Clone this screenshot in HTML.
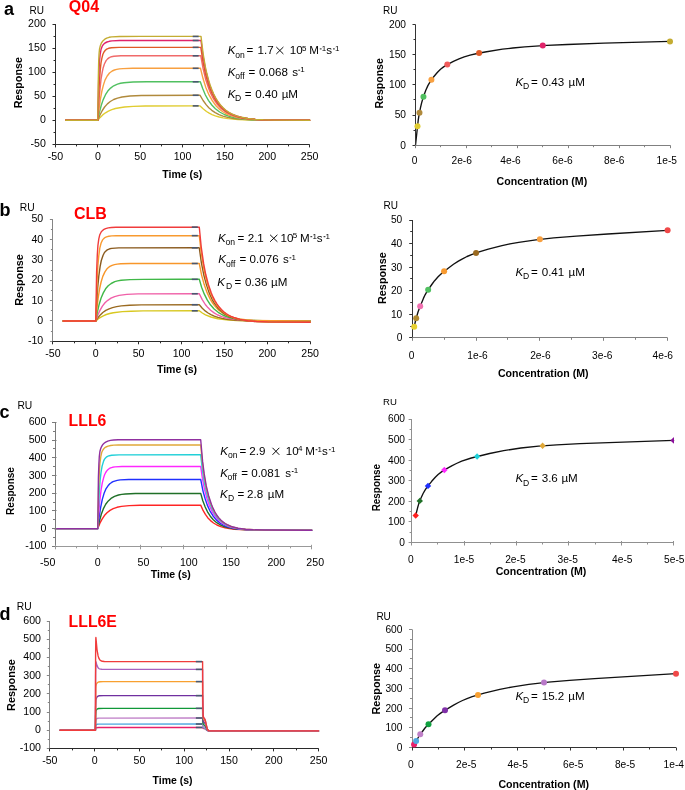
<!DOCTYPE html><html><head><meta charset="utf-8"><style>html,body{margin:0;padding:0;background:#fff;width:685px;height:790px;overflow:hidden;position:relative}</style></head><body><svg width="685" height="790" viewBox="0 0 685 790" style="position:absolute;left:0;top:0;will-change:transform" font-family='"Liberation Sans", sans-serif'>
<rect width="685" height="790" fill="#fff"/>
<path d="M65.7,120.3 L97.8,120.3 L100.2,117.4 L102.7,114.9 L105.5,112.8 L108.4,111.1 L111.8,109.7 L115.4,108.5 L119.7,107.7 L124.5,107.0 L133.2,106.4 L145.1,106.0 L199.3,105.9 L200.1,105.9 L203.1,108.8 L206.5,111.5 L209.2,113.2 L212.0,114.6 L215.4,115.9 L219.2,117.0 L223.2,117.9 L227.9,118.6 L238.0,119.5 L251.8,120.1 L309.6,120.3" fill="none" stroke="#e0cc30" stroke-width="1.4" stroke-linejoin="round" stroke-linecap="round" />
<path d="M65.7,120.3 L97.8,120.3 L100.0,115.0 L102.3,110.5 L104.6,107.0 L107.4,103.9 L110.3,101.5 L113.7,99.5 L117.5,98.1 L122.0,97.0 L130.0,96.0 L141.3,95.5 L199.3,95.3 L200.1,95.3 L203.1,100.5 L206.3,104.9 L208.8,107.7 L211.8,110.3 L215.2,112.6 L219.0,114.6 L223.0,116.1 L227.7,117.4 L232.3,118.3 L237.8,119.0 L251.6,119.9 L271.3,120.2 L309.6,120.3" fill="none" stroke="#b08a3c" stroke-width="1.4" stroke-linejoin="round" stroke-linecap="round" />
<path d="M65.7,120.3 L97.8,120.3 L99.5,112.0 L101.2,105.5 L103.1,99.9 L105.5,94.7 L107.8,91.1 L110.6,88.1 L113.7,85.8 L117.5,84.1 L120.5,83.3 L123.9,82.7 L133.0,82.0 L146.6,81.8 L181.7,81.8 L200.3,81.8 L202.7,88.6 L205.4,95.0 L208.4,100.3 L211.8,105.0 L215.4,108.7 L219.6,112.0 L224.3,114.5 L229.3,116.4 L234.0,117.6 L239.5,118.5 L245.7,119.2 L253.1,119.7 L272.3,120.2 L309.6,120.3" fill="none" stroke="#50c060" stroke-width="1.4" stroke-linejoin="round" stroke-linecap="round" />
<path d="M65.7,120.3 L97.8,120.3 L99.1,108.4 L100.4,99.1 L101.9,91.0 L103.4,85.1 L105.0,80.1 L107.2,76.0 L109.5,73.0 L112.2,71.0 L114.4,70.0 L116.7,69.4 L119.4,68.9 L123.0,68.6 L132.6,68.3 L158.0,68.3 L200.5,68.3 L203.1,78.8 L205.8,87.4 L209.0,94.9 L212.4,100.9 L216.2,106.0 L218.3,108.1 L220.7,110.2 L223.2,112.0 L225.7,113.5 L228.5,114.8 L231.5,115.9 L236.1,117.2 L241.4,118.3 L247.6,119.0 L254.8,119.6 L273.6,120.1 L309.6,120.3" fill="none" stroke="#f8a040" stroke-width="1.4" stroke-linejoin="round" stroke-linecap="round" />
<path d="M65.7,120.3 L97.8,120.3 L99.3,96.2 L101.0,79.5 L102.1,72.8 L103.1,68.0 L104.4,64.0 L106.1,60.6 L107.6,58.9 L109.3,57.6 L111.4,56.7 L113.9,56.2 L120.9,55.8 L141.3,55.8 L200.8,55.8 L203.1,68.7 L205.8,79.8 L208.8,88.8 L210.5,92.9 L212.4,96.8 L214.3,100.1 L216.4,103.2 L218.8,106.0 L221.1,108.4 L223.6,110.5 L226.4,112.4 L229.1,113.9 L232.3,115.3 L237.0,116.8 L242.3,118.0 L248.4,118.9 L255.6,119.5 L274.2,120.1 L309.6,120.3" fill="none" stroke="#f06a6a" stroke-width="1.4" stroke-linejoin="round" stroke-linecap="round" />
<path d="M65.7,120.3 L97.8,120.3 L98.9,90.0 L100.2,70.4 L101.0,62.9 L101.9,58.1 L102.9,54.3 L104.0,52.0 L105.3,50.3 L106.7,49.1 L108.6,48.3 L111.4,47.8 L119.0,47.4 L140.4,47.4 L200.8,47.4 L202.9,61.4 L205.4,73.7 L208.4,84.2 L210.1,89.0 L212.0,93.5 L213.9,97.3 L216.0,100.9 L218.3,104.1 L220.7,106.8 L223.2,109.2 L226.0,111.4 L228.9,113.2 L232.1,114.7 L236.8,116.4 L242.1,117.7 L248.2,118.7 L255.4,119.4 L263.7,119.8 L274.2,120.1 L309.6,120.3" fill="none" stroke="#e05a26" stroke-width="1.4" stroke-linejoin="round" stroke-linecap="round" />
<path d="M65.7,120.3 L97.8,120.3 L98.5,86.1 L98.9,72.9 L99.5,60.9 L100.2,54.3 L101.0,49.5 L102.1,46.4 L103.6,44.2 L105.0,43.0 L107.0,42.0 L109.3,41.3 L112.0,40.9 L119.7,40.5 L140.4,40.5 L201.0,40.5 L203.1,56.5 L205.6,70.1 L208.6,81.6 L210.3,86.8 L212.0,91.1 L213.9,95.3 L216.0,99.2 L218.1,102.5 L220.5,105.4 L223.0,108.1 L225.7,110.5 L228.7,112.5 L231.9,114.2 L236.5,116.0 L241.8,117.5 L248.0,118.5 L255.2,119.3 L263.4,119.8 L274.0,120.1 L309.6,120.3" fill="none" stroke="#e0246a" stroke-width="1.4" stroke-linejoin="round" stroke-linecap="round" />
<path d="M65.7,120.3 L97.8,120.3 L98.3,79.2 L98.7,61.3 L99.1,53.2 L99.5,49.2 L100.4,45.4 L101.4,43.0 L103.1,40.7 L104.8,39.2 L106.7,38.1 L109.1,37.3 L111.8,36.9 L119.7,36.5 L140.6,36.4 L201.0,36.4 L203.1,53.6 L205.4,67.1 L206.9,73.8 L208.4,79.4 L210.1,84.9 L211.8,89.6 L213.7,94.0 L215.8,98.1 L217.9,101.5 L220.2,104.7 L222.8,107.5 L225.5,110.0 L228.5,112.1 L231.7,113.9 L236.3,115.8 L241.6,117.3 L247.8,118.5 L255.0,119.2 L263.2,119.8 L273.8,120.1 L309.6,120.3" fill="none" stroke="#c4ac32" stroke-width="1.4" stroke-linejoin="round" stroke-linecap="round" />
<line x1="192.71" y1="36.43" x2="198.64" y2="36.43" stroke="#4a5870" stroke-width="1.6"/>
<line x1="192.71" y1="40.47" x2="198.64" y2="40.47" stroke="#4a5870" stroke-width="1.6"/>
<line x1="192.71" y1="47.36" x2="198.64" y2="47.36" stroke="#4a5870" stroke-width="1.6"/>
<line x1="192.71" y1="55.79" x2="198.64" y2="55.79" stroke="#4a5870" stroke-width="1.6"/>
<line x1="192.71" y1="68.31" x2="198.64" y2="68.31" stroke="#4a5870" stroke-width="1.6"/>
<line x1="192.71" y1="81.79" x2="198.64" y2="81.79" stroke="#4a5870" stroke-width="1.6"/>
<line x1="192.71" y1="95.28" x2="198.64" y2="95.28" stroke="#4a5870" stroke-width="1.6"/>
<line x1="192.71" y1="105.87" x2="198.64" y2="105.87" stroke="#4a5870" stroke-width="1.6"/>
<line x1="55.50" y1="24.00" x2="55.50" y2="144.40" stroke="#2a2a2a" stroke-width="1"/>
<line x1="55.50" y1="144.50" x2="309.60" y2="144.50" stroke="#2a2a2a" stroke-width="1"/>
<line x1="52.50" y1="144.50" x2="55.50" y2="144.50" stroke="#2a2a2a" stroke-width="1"/>
<line x1="53.50" y1="132.50" x2="55.50" y2="132.50" stroke="#2a2a2a" stroke-width="1"/>
<line x1="52.50" y1="120.50" x2="55.50" y2="120.50" stroke="#2a2a2a" stroke-width="1"/>
<line x1="53.50" y1="108.50" x2="55.50" y2="108.50" stroke="#2a2a2a" stroke-width="1"/>
<line x1="52.50" y1="96.50" x2="55.50" y2="96.50" stroke="#2a2a2a" stroke-width="1"/>
<line x1="53.50" y1="84.50" x2="55.50" y2="84.50" stroke="#2a2a2a" stroke-width="1"/>
<line x1="52.50" y1="72.50" x2="55.50" y2="72.50" stroke="#2a2a2a" stroke-width="1"/>
<line x1="53.50" y1="60.50" x2="55.50" y2="60.50" stroke="#2a2a2a" stroke-width="1"/>
<line x1="52.50" y1="48.50" x2="55.50" y2="48.50" stroke="#2a2a2a" stroke-width="1"/>
<line x1="53.50" y1="36.50" x2="55.50" y2="36.50" stroke="#2a2a2a" stroke-width="1"/>
<line x1="52.50" y1="24.50" x2="55.50" y2="24.50" stroke="#2a2a2a" stroke-width="1"/>
<line x1="55.50" y1="144.40" x2="55.50" y2="147.40" stroke="#2a2a2a" stroke-width="1"/>
<line x1="76.50" y1="144.40" x2="76.50" y2="146.40" stroke="#2a2a2a" stroke-width="1"/>
<line x1="97.50" y1="144.40" x2="97.50" y2="147.40" stroke="#2a2a2a" stroke-width="1"/>
<line x1="119.50" y1="144.40" x2="119.50" y2="146.40" stroke="#2a2a2a" stroke-width="1"/>
<line x1="140.50" y1="144.40" x2="140.50" y2="147.40" stroke="#2a2a2a" stroke-width="1"/>
<line x1="161.50" y1="144.40" x2="161.50" y2="146.40" stroke="#2a2a2a" stroke-width="1"/>
<line x1="182.50" y1="144.40" x2="182.50" y2="147.40" stroke="#2a2a2a" stroke-width="1"/>
<line x1="203.50" y1="144.40" x2="203.50" y2="146.40" stroke="#2a2a2a" stroke-width="1"/>
<line x1="224.50" y1="144.40" x2="224.50" y2="147.40" stroke="#2a2a2a" stroke-width="1"/>
<line x1="246.50" y1="144.40" x2="246.50" y2="146.40" stroke="#2a2a2a" stroke-width="1"/>
<line x1="267.50" y1="144.40" x2="267.50" y2="147.40" stroke="#2a2a2a" stroke-width="1"/>
<line x1="288.50" y1="144.40" x2="288.50" y2="146.40" stroke="#2a2a2a" stroke-width="1"/>
<line x1="309.50" y1="144.40" x2="309.50" y2="147.40" stroke="#2a2a2a" stroke-width="1"/>
<text x="45.80" y="147.40" font-size="10.6" font-weight="normal" text-anchor="end" fill="#000" >-50</text>
<text x="45.80" y="123.32" font-size="10.6" font-weight="normal" text-anchor="end" fill="#000" >0</text>
<text x="45.80" y="99.24" font-size="10.6" font-weight="normal" text-anchor="end" fill="#000" >50</text>
<text x="45.80" y="75.16" font-size="10.6" font-weight="normal" text-anchor="end" fill="#000" >100</text>
<text x="45.80" y="51.08" font-size="10.6" font-weight="normal" text-anchor="end" fill="#000" >150</text>
<text x="45.80" y="27.00" font-size="10.6" font-weight="normal" text-anchor="end" fill="#000" >200</text>
<text x="55.50" y="160.00" font-size="10.6" font-weight="normal" text-anchor="middle" fill="#000" >-50</text>
<text x="97.85" y="160.00" font-size="10.6" font-weight="normal" text-anchor="middle" fill="#000" >0</text>
<text x="140.20" y="160.00" font-size="10.6" font-weight="normal" text-anchor="middle" fill="#000" >50</text>
<text x="182.55" y="160.00" font-size="10.6" font-weight="normal" text-anchor="middle" fill="#000" >100</text>
<text x="224.90" y="160.00" font-size="10.6" font-weight="normal" text-anchor="middle" fill="#000" >150</text>
<text x="267.25" y="160.00" font-size="10.6" font-weight="normal" text-anchor="middle" fill="#000" >200</text>
<text x="309.60" y="160.00" font-size="10.6" font-weight="normal" text-anchor="middle" fill="#000" >250</text>
<text x="182.30" y="178.00" font-size="10.5" font-weight="bold" text-anchor="middle" fill="#000" >Time (s)</text>
<text x="22.20" y="82.75" font-size="10.6" font-weight="bold" text-anchor="middle" fill="#000" textLength="51.2" lengthAdjust="spacingAndGlyphs" transform="rotate(-90 22.2 82.75)">Response</text>
<text x="4.00" y="15.20" font-size="18" font-weight="bold" text-anchor="start" fill="#000" >a</text>
<text x="29.50" y="14.00" font-size="10" font-weight="normal" text-anchor="start" fill="#000" >RU</text>
<text x="68.80" y="12.20" font-size="16" font-weight="bold" text-anchor="start" fill="#ff0000" >Q04</text>
<text x="227.70" y="54.40" font-size="11.6" font-style="italic">K</text>
<text x="235.30" y="57.60" font-size="8.58">on</text>
<text x="246.60" y="54.40" font-size="11.6">=</text>
<text x="257.50" y="54.40" font-size="11.6">1.7</text>
<path d="M276.30,47.00 L283.40,54.00 M283.40,47.00 L276.30,54.00" stroke="#000" stroke-width="0.95" fill="none"/>
<text x="289.80" y="54.40" font-size="11.6">10</text>
<text x="302.10" y="50.60" font-size="8">5</text>
<text x="309.30" y="54.40" font-size="11.6">M</text>
<line x1="319.80" y1="48.90" x2="321.60" y2="48.90" stroke="#000" stroke-width="0.9"/>
<text x="321.80" y="50.80" font-size="8">1</text>
<text x="326.30" y="54.40" font-size="11.6">s</text>
<line x1="333.00" y1="48.90" x2="334.80" y2="48.90" stroke="#000" stroke-width="0.9"/>
<text x="335.00" y="50.80" font-size="8">1</text>
<text x="227.70" y="75.70" font-size="11.6" font-style="italic">K</text>
<text x="235.30" y="78.90" font-size="8.58">off</text>
<text x="248.50" y="75.70" font-size="11.6">=</text>
<text x="258.90" y="75.70" font-size="11.6">0.068</text>
<text x="292.20" y="75.70" font-size="11.6">s</text>
<line x1="298.30" y1="70.20" x2="300.10" y2="70.20" stroke="#000" stroke-width="0.9"/>
<text x="300.30" y="72.10" font-size="8">1</text>
<text x="227.70" y="97.70" font-size="11.6" font-style="italic">K</text>
<text x="234.90" y="100.90" font-size="8.58">D</text>
<text x="244.70" y="97.70" font-size="11.6">=</text>
<text x="255.20" y="97.70" font-size="11.6">0.40</text>
<text x="281.70" y="97.70" font-size="11.6">µM</text>
<path d="M63.2,321.0 L95.8,321.0 L98.1,318.9 L100.5,317.3 L103.3,315.8 L106.3,314.5 L109.7,313.5 L113.3,312.7 L122.3,311.6 L131.1,311.2 L143.1,310.9 L198.4,310.8 L199.3,310.8 L202.3,313.0 L205.5,314.8 L210.9,317.0 L217.9,318.7 L226.5,319.9 L236.6,320.5 L250.3,320.8 L310.1,321.0" fill="none" stroke="#d8c820" stroke-width="1.4" stroke-linejoin="round" stroke-linecap="round" />
<path d="M63.2,321.0 L95.8,321.0 L97.9,317.7 L100.3,314.9 L102.8,312.5 L105.8,310.4 L109.1,308.8 L112.5,307.6 L116.6,306.6 L121.3,305.9 L129.6,305.2 L141.2,304.9 L198.4,304.7 L199.3,304.7 L202.3,308.3 L205.5,311.2 L208.1,313.0 L210.9,314.6 L214.3,316.2 L217.9,317.4 L222.0,318.4 L226.5,319.2 L236.6,320.2 L250.3,320.7 L270.0,320.9 L310.1,321.0" fill="none" stroke="#9a6a20" stroke-width="1.4" stroke-linejoin="round" stroke-linecap="round" />
<path d="M63.2,321.0 L95.8,321.0 L97.9,314.8 L100.1,310.1 L102.4,306.1 L105.0,302.8 L107.8,300.3 L111.0,298.2 L114.6,296.6 L119.1,295.4 L126.8,294.4 L138.0,293.9 L198.4,293.8 L199.3,293.8 L202.1,299.4 L205.3,304.5 L207.9,307.6 L210.6,310.3 L214.1,312.9 L217.7,315.0 L221.8,316.6 L226.3,318.0 L231.0,318.9 L236.4,319.6 L242.6,320.2 L250.1,320.5 L269.8,320.9 L310.1,321.0" fill="none" stroke="#f060a8" stroke-width="1.4" stroke-linejoin="round" stroke-linecap="round" />
<path d="M63.2,321.0 L95.8,321.0 L97.5,311.5 L99.2,304.2 L101.1,298.0 L103.3,292.9 L105.6,288.8 L108.2,285.8 L111.2,283.5 L114.8,281.7 L117.6,280.9 L121.1,280.3 L130.1,279.6 L143.6,279.4 L179.8,279.3 L199.3,279.3 L201.6,287.2 L204.2,293.9 L207.2,299.9 L210.4,304.8 L214.1,309.0 L218.2,312.3 L222.7,315.0 L227.8,317.0 L232.5,318.3 L237.9,319.2 L244.1,319.9 L251.4,320.4 L270.9,320.9 L310.1,321.0" fill="none" stroke="#40b848" stroke-width="1.4" stroke-linejoin="round" stroke-linecap="round" />
<path d="M63.2,321.0 L95.8,321.0 L96.8,309.3 L98.1,298.4 L99.6,288.9 L101.1,282.0 L102.8,276.4 L104.8,272.1 L107.1,268.7 L108.4,267.5 L109.9,266.4 L112.1,265.3 L114.4,264.6 L117.2,264.1 L120.8,263.8 L130.5,263.5 L157.3,263.5 L199.3,263.5 L201.6,275.1 L204.2,284.6 L207.2,292.9 L210.6,299.9 L212.6,303.0 L214.5,305.6 L216.7,308.1 L218.8,310.2 L221.2,312.0 L223.7,313.7 L226.5,315.2 L229.3,316.4 L233.8,317.8 L239.2,318.9 L245.4,319.7 L252.7,320.3 L271.7,320.8 L310.1,321.0" fill="none" stroke="#f8962a" stroke-width="1.4" stroke-linejoin="round" stroke-linecap="round" />
<path d="M63.2,321.0 L95.8,321.0 L96.6,303.5 L97.7,287.5 L98.8,276.1 L100.1,266.7 L101.3,260.5 L103.1,255.2 L104.1,253.2 L105.2,251.7 L106.5,250.4 L107.8,249.6 L109.7,248.8 L111.8,248.4 L118.7,247.9 L198.6,247.8 L199.3,247.9 L201.4,262.8 L204.0,275.8 L206.4,284.6 L208.9,292.1 L212.1,299.3 L213.9,302.3 L215.8,305.2 L217.7,307.7 L219.9,310.0 L222.2,312.1 L224.6,313.9 L229.3,316.5 L234.7,318.5 L240.9,320.0 L248.6,321.0 L257.2,321.6 L268.5,322.0 L310.1,322.2" fill="none" stroke="#8a5a1e" stroke-width="1.4" stroke-linejoin="round" stroke-linecap="round" />
<path d="M63.2,321.0 L95.8,321.0 L97.1,280.4 L97.9,265.3 L98.8,255.6 L99.8,248.1 L101.1,243.0 L102.6,239.9 L103.7,238.6 L104.8,237.7 L106.5,236.9 L108.8,236.3 L111.8,235.9 L116.3,235.7 L198.6,235.7 L199.3,235.7 L201.2,252.7 L203.6,267.5 L205.9,278.3 L208.5,287.3 L211.7,295.7 L213.4,299.2 L215.4,302.6 L217.3,305.5 L219.4,308.2 L221.8,310.6 L224.2,312.6 L226.5,314.3 L228.9,315.7 L234.2,318.0 L240.4,319.6 L248.2,320.8 L256.9,321.5 L268.3,321.9 L310.1,322.2" fill="none" stroke="#f89a30" stroke-width="1.4" stroke-linejoin="round" stroke-linecap="round" />
<path d="M63.2,321.0 L95.8,321.0 L96.6,272.2 L97.3,255.0 L97.9,245.6 L98.8,238.9 L99.8,234.7 L101.3,231.8 L102.4,230.6 L103.5,229.7 L105.6,228.6 L108.2,227.9 L111.4,227.5 L115.9,227.2 L198.6,227.1 L199.3,227.2 L201.2,246.8 L203.6,263.4 L205.7,274.3 L208.3,284.2 L211.3,292.9 L213.0,296.9 L214.9,300.6 L216.9,303.8 L219.0,306.8 L221.4,309.5 L223.7,311.7 L226.1,313.5 L228.4,315.0 L231.0,316.4 L233.8,317.5 L240.0,319.4 L247.7,320.7 L256.5,321.5 L267.9,321.9 L310.1,322.2" fill="none" stroke="#f03c3c" stroke-width="1.4" stroke-linejoin="round" stroke-linecap="round" />
<line x1="191.79" y1="227.12" x2="197.79" y2="227.12" stroke="#4a5870" stroke-width="1.6"/>
<line x1="191.79" y1="235.65" x2="197.79" y2="235.65" stroke="#4a5870" stroke-width="1.6"/>
<line x1="191.79" y1="247.84" x2="197.79" y2="247.84" stroke="#4a5870" stroke-width="1.6"/>
<line x1="191.79" y1="263.49" x2="197.79" y2="263.49" stroke="#4a5870" stroke-width="1.6"/>
<line x1="191.79" y1="279.33" x2="197.79" y2="279.33" stroke="#4a5870" stroke-width="1.6"/>
<line x1="191.79" y1="293.76" x2="197.79" y2="293.76" stroke="#4a5870" stroke-width="1.6"/>
<line x1="191.79" y1="304.73" x2="197.79" y2="304.73" stroke="#4a5870" stroke-width="1.6"/>
<line x1="191.79" y1="310.82" x2="197.79" y2="310.82" stroke="#4a5870" stroke-width="1.6"/>
<line x1="52.50" y1="219.40" x2="52.50" y2="341.30" stroke="#858585" stroke-width="1"/>
<line x1="52.90" y1="341.50" x2="310.10" y2="341.50" stroke="#2a2a2a" stroke-width="1"/>
<line x1="49.90" y1="341.50" x2="52.90" y2="341.50" stroke="#858585" stroke-width="1"/>
<line x1="50.90" y1="331.50" x2="52.90" y2="331.50" stroke="#858585" stroke-width="1"/>
<line x1="49.90" y1="320.50" x2="52.90" y2="320.50" stroke="#858585" stroke-width="1"/>
<line x1="50.90" y1="310.50" x2="52.90" y2="310.50" stroke="#858585" stroke-width="1"/>
<line x1="49.90" y1="300.50" x2="52.90" y2="300.50" stroke="#858585" stroke-width="1"/>
<line x1="50.90" y1="290.50" x2="52.90" y2="290.50" stroke="#858585" stroke-width="1"/>
<line x1="49.90" y1="280.50" x2="52.90" y2="280.50" stroke="#858585" stroke-width="1"/>
<line x1="50.90" y1="270.50" x2="52.90" y2="270.50" stroke="#858585" stroke-width="1"/>
<line x1="49.90" y1="260.50" x2="52.90" y2="260.50" stroke="#858585" stroke-width="1"/>
<line x1="50.90" y1="249.50" x2="52.90" y2="249.50" stroke="#858585" stroke-width="1"/>
<line x1="49.90" y1="239.50" x2="52.90" y2="239.50" stroke="#858585" stroke-width="1"/>
<line x1="50.90" y1="229.50" x2="52.90" y2="229.50" stroke="#858585" stroke-width="1"/>
<line x1="49.90" y1="219.50" x2="52.90" y2="219.50" stroke="#858585" stroke-width="1"/>
<line x1="52.50" y1="341.30" x2="52.50" y2="344.30" stroke="#2a2a2a" stroke-width="1"/>
<line x1="74.50" y1="341.30" x2="74.50" y2="343.30" stroke="#2a2a2a" stroke-width="1"/>
<line x1="95.50" y1="341.30" x2="95.50" y2="344.30" stroke="#2a2a2a" stroke-width="1"/>
<line x1="117.50" y1="341.30" x2="117.50" y2="343.30" stroke="#2a2a2a" stroke-width="1"/>
<line x1="138.50" y1="341.30" x2="138.50" y2="344.30" stroke="#2a2a2a" stroke-width="1"/>
<line x1="160.50" y1="341.30" x2="160.50" y2="343.30" stroke="#2a2a2a" stroke-width="1"/>
<line x1="181.50" y1="341.30" x2="181.50" y2="344.30" stroke="#2a2a2a" stroke-width="1"/>
<line x1="202.50" y1="341.30" x2="202.50" y2="343.30" stroke="#2a2a2a" stroke-width="1"/>
<line x1="224.50" y1="341.30" x2="224.50" y2="344.30" stroke="#2a2a2a" stroke-width="1"/>
<line x1="245.50" y1="341.30" x2="245.50" y2="343.30" stroke="#2a2a2a" stroke-width="1"/>
<line x1="267.50" y1="341.30" x2="267.50" y2="344.30" stroke="#2a2a2a" stroke-width="1"/>
<line x1="288.50" y1="341.30" x2="288.50" y2="343.30" stroke="#2a2a2a" stroke-width="1"/>
<line x1="310.50" y1="341.30" x2="310.50" y2="344.30" stroke="#2a2a2a" stroke-width="1"/>
<text x="43.20" y="344.30" font-size="10.6" font-weight="normal" text-anchor="end" fill="#000" >-10</text>
<text x="43.20" y="323.98" font-size="10.6" font-weight="normal" text-anchor="end" fill="#000" >0</text>
<text x="43.20" y="303.67" font-size="10.6" font-weight="normal" text-anchor="end" fill="#000" >10</text>
<text x="43.20" y="283.35" font-size="10.6" font-weight="normal" text-anchor="end" fill="#000" >20</text>
<text x="43.20" y="263.03" font-size="10.6" font-weight="normal" text-anchor="end" fill="#000" >30</text>
<text x="43.20" y="242.72" font-size="10.6" font-weight="normal" text-anchor="end" fill="#000" >40</text>
<text x="43.20" y="222.40" font-size="10.6" font-weight="normal" text-anchor="end" fill="#000" >50</text>
<text x="52.90" y="356.80" font-size="10.6" font-weight="normal" text-anchor="middle" fill="#000" >-50</text>
<text x="95.77" y="356.80" font-size="10.6" font-weight="normal" text-anchor="middle" fill="#000" >0</text>
<text x="138.63" y="356.80" font-size="10.6" font-weight="normal" text-anchor="middle" fill="#000" >50</text>
<text x="181.50" y="356.80" font-size="10.6" font-weight="normal" text-anchor="middle" fill="#000" >100</text>
<text x="224.37" y="356.80" font-size="10.6" font-weight="normal" text-anchor="middle" fill="#000" >150</text>
<text x="267.23" y="356.80" font-size="10.6" font-weight="normal" text-anchor="middle" fill="#000" >200</text>
<text x="310.10" y="356.80" font-size="10.6" font-weight="normal" text-anchor="middle" fill="#000" >250</text>
<text x="177.00" y="373.00" font-size="10.5" font-weight="bold" text-anchor="middle" fill="#000" >Time (s)</text>
<text x="22.60" y="280.00" font-size="10.6" font-weight="bold" text-anchor="middle" fill="#000" textLength="51.7" lengthAdjust="spacingAndGlyphs" transform="rotate(-90 22.6 280)">Response</text>
<text x="-0.60" y="216.20" font-size="18" font-weight="bold" text-anchor="start" fill="#000" >b</text>
<text x="19.80" y="210.80" font-size="10.3" font-weight="normal" text-anchor="start" fill="#000" >RU</text>
<text x="74.00" y="218.80" font-size="16" font-weight="bold" text-anchor="start" fill="#ff0000" >CLB</text>
<text x="218.00" y="242.20" font-size="11.6" font-style="italic">K</text>
<text x="225.60" y="245.40" font-size="8.58">on</text>
<text x="237.50" y="242.20" font-size="11.6">=</text>
<text x="247.70" y="242.20" font-size="11.6">2.1</text>
<path d="M270.10,234.80 L277.40,241.80 M277.40,234.80 L270.10,241.80" stroke="#000" stroke-width="0.95" fill="none"/>
<text x="280.60" y="242.20" font-size="11.6">10</text>
<text x="292.80" y="238.40" font-size="8">5</text>
<text x="300.10" y="242.20" font-size="11.6">M</text>
<line x1="310.40" y1="236.70" x2="312.20" y2="236.70" stroke="#000" stroke-width="0.9"/>
<text x="312.40" y="238.60" font-size="8">1</text>
<text x="316.70" y="242.20" font-size="11.6">s</text>
<line x1="323.60" y1="236.70" x2="325.40" y2="236.70" stroke="#000" stroke-width="0.9"/>
<text x="325.60" y="238.60" font-size="8">1</text>
<text x="218.30" y="263.30" font-size="11.6" font-style="italic">K</text>
<text x="225.90" y="266.50" font-size="8.58">off</text>
<text x="239.60" y="263.30" font-size="11.6">=</text>
<text x="249.60" y="263.30" font-size="11.6">0.076</text>
<text x="283.00" y="263.30" font-size="11.6">s</text>
<line x1="289.50" y1="257.80" x2="291.30" y2="257.80" stroke="#000" stroke-width="0.9"/>
<text x="291.50" y="259.70" font-size="8">1</text>
<text x="217.30" y="285.60" font-size="11.6" font-style="italic">K</text>
<text x="225.90" y="288.80" font-size="8.58">D</text>
<text x="234.40" y="285.60" font-size="11.6">=</text>
<text x="244.90" y="285.60" font-size="11.6">0.36</text>
<text x="271.00" y="285.60" font-size="11.6">µM</text>
<path d="M55.0,528.6 L97.8,528.6 L99.9,523.2 L102.1,519.1 L104.4,515.6 L107.0,512.8 L110.0,510.4 L113.2,508.7 L117.0,507.3 L121.5,506.4 L129.2,505.6 L140.1,505.2 L200.5,505.1 L200.7,505.1 L203.2,510.7 L205.4,514.4 L207.7,517.7 L210.5,520.6 L213.5,523.0 L216.9,525.0 L220.8,526.6 L225.1,527.8 L229.3,528.6 L234.3,529.2 L247.1,529.9 L266.1,530.1 L311.7,530.2" fill="none" stroke="#ff2424" stroke-width="1.4" stroke-linejoin="round" stroke-linecap="round" />
<path d="M55.0,528.6 L97.8,528.6 L99.5,520.7 L101.4,514.0 L103.3,508.9 L105.7,504.3 L108.3,500.9 L111.0,498.4 L114.5,496.4 L118.5,495.0 L121.7,494.4 L125.4,494.0 L135.4,493.5 L200.5,493.4 L200.7,493.4 L202.8,500.7 L205.2,507.0 L207.5,511.8 L210.3,516.2 L213.3,519.7 L216.7,522.7 L220.6,525.0 L224.8,526.8 L229.1,527.9 L234.0,528.8 L239.8,529.4 L246.9,529.8 L265.9,530.1 L311.7,530.2" fill="none" stroke="#207028" stroke-width="1.4" stroke-linejoin="round" stroke-linecap="round" />
<path d="M55.0,528.6 L97.8,528.6 L99.1,517.4 L100.6,507.6 L102.3,499.4 L104.0,493.6 L106.1,488.6 L108.5,485.2 L109.8,483.8 L111.3,482.7 L113.0,481.7 L114.7,481.1 L117.2,480.4 L120.2,479.9 L128.8,479.5 L200.5,479.4 L200.7,479.4 L203.0,491.1 L205.0,498.3 L207.3,505.1 L209.9,510.8 L212.9,515.7 L216.3,519.9 L220.1,523.1 L224.4,525.5 L228.7,527.1 L233.6,528.3 L239.4,529.1 L246.5,529.6 L265.5,530.1 L311.7,530.2" fill="none" stroke="#2030ff" stroke-width="1.4" stroke-linejoin="round" stroke-linecap="round" />
<path d="M55.0,528.6 L97.8,528.6 L98.6,514.7 L99.7,501.6 L101.0,490.5 L102.3,482.9 L103.8,477.1 L104.6,474.7 L105.7,472.5 L106.8,470.9 L107.8,469.7 L109.1,468.7 L110.6,467.9 L112.5,467.3 L114.9,466.9 L122.0,466.5 L200.5,466.5 L200.7,466.5 L202.4,478.4 L204.5,489.4 L206.9,498.4 L209.4,505.7 L212.4,512.1 L214.2,514.9 L215.9,517.3 L217.8,519.5 L219.7,521.3 L221.9,523.0 L224.0,524.3 L228.3,526.3 L233.2,527.8 L239.0,528.8 L246.0,529.5 L254.2,529.9 L265.3,530.1 L311.7,530.2" fill="none" stroke="#ff28ff" stroke-width="1.4" stroke-linejoin="round" stroke-linecap="round" />
<path d="M55.0,528.6 L97.8,528.6 L98.4,509.6 L99.3,492.0 L100.1,480.3 L101.0,472.5 L102.1,466.1 L103.6,461.1 L104.4,459.4 L105.3,458.2 L106.3,457.1 L107.6,456.3 L109.3,455.7 L111.7,455.2 L119.0,454.9 L200.5,454.8 L200.7,454.8 L202.4,469.8 L204.3,482.1 L206.5,492.2 L209.0,501.1 L212.0,508.7 L215.2,514.6 L217.1,517.3 L219.1,519.5 L221.2,521.5 L223.6,523.3 L227.8,525.6 L232.8,527.4 L238.5,528.6 L245.6,529.4 L253.7,529.8 L264.9,530.1 L311.7,530.2" fill="none" stroke="#20d0d8" stroke-width="1.4" stroke-linejoin="round" stroke-linecap="round" />
<path d="M55.0,528.6 L97.8,528.6 L98.6,488.2 L99.3,472.6 L99.9,463.5 L100.8,456.6 L101.8,452.2 L102.7,450.3 L103.6,449.0 L104.6,447.9 L105.9,447.0 L108.1,446.1 L110.6,445.5 L113.8,445.1 L118.3,445.0 L200.5,444.9 L200.7,444.9 L202.2,461.0 L204.1,475.7 L206.2,487.5 L208.8,497.7 L210.3,502.4 L211.8,506.3 L213.3,509.6 L215.0,512.9 L216.9,515.9 L218.9,518.3 L221.0,520.6 L223.1,522.4 L227.4,525.0 L232.3,527.0 L238.1,528.4 L245.4,529.3 L253.5,529.8 L264.6,530.1 L311.7,530.2" fill="none" stroke="#e0a838" stroke-width="1.4" stroke-linejoin="round" stroke-linecap="round" />
<path d="M55.0,528.6 L97.8,528.6 L98.4,477.4 L98.9,463.7 L99.3,456.7 L99.9,451.5 L100.6,448.9 L101.2,447.3 L102.1,445.7 L103.1,444.2 L104.4,443.0 L105.7,442.1 L107.8,441.1 L110.4,440.4 L113.6,440.0 L118.1,439.8 L200.5,439.7 L200.7,439.8 L202.6,461.4 L204.1,473.2 L206.2,485.7 L208.6,495.7 L211.4,504.3 L213.1,508.4 L214.8,511.8 L216.7,515.0 L218.6,517.6 L220.8,520.0 L222.9,521.9 L225.1,523.5 L227.2,524.7 L232.1,526.8 L237.9,528.3 L245.2,529.2 L253.3,529.8 L264.4,530.0 L311.7,530.2" fill="none" stroke="#9030a0" stroke-width="1.4" stroke-linejoin="round" stroke-linecap="round" />
<line x1="55.50" y1="422.40" x2="55.50" y2="546.30" stroke="#7a7a7a" stroke-width="1"/>
<line x1="55.00" y1="546.50" x2="311.70" y2="546.50" stroke="#999999" stroke-width="1"/>
<line x1="52.00" y1="546.50" x2="56.50" y2="546.50" stroke="#7a7a7a" stroke-width="1"/>
<line x1="53.00" y1="537.50" x2="55.00" y2="537.50" stroke="#7a7a7a" stroke-width="1"/>
<line x1="52.00" y1="528.50" x2="56.50" y2="528.50" stroke="#7a7a7a" stroke-width="1"/>
<line x1="53.00" y1="519.50" x2="55.00" y2="519.50" stroke="#7a7a7a" stroke-width="1"/>
<line x1="52.00" y1="510.50" x2="56.50" y2="510.50" stroke="#7a7a7a" stroke-width="1"/>
<line x1="53.00" y1="502.50" x2="55.00" y2="502.50" stroke="#7a7a7a" stroke-width="1"/>
<line x1="52.00" y1="493.50" x2="56.50" y2="493.50" stroke="#7a7a7a" stroke-width="1"/>
<line x1="53.00" y1="484.50" x2="55.00" y2="484.50" stroke="#7a7a7a" stroke-width="1"/>
<line x1="52.00" y1="475.50" x2="56.50" y2="475.50" stroke="#7a7a7a" stroke-width="1"/>
<line x1="53.00" y1="466.50" x2="55.00" y2="466.50" stroke="#7a7a7a" stroke-width="1"/>
<line x1="52.00" y1="457.50" x2="56.50" y2="457.50" stroke="#7a7a7a" stroke-width="1"/>
<line x1="53.00" y1="448.50" x2="55.00" y2="448.50" stroke="#7a7a7a" stroke-width="1"/>
<line x1="52.00" y1="440.50" x2="56.50" y2="440.50" stroke="#7a7a7a" stroke-width="1"/>
<line x1="53.00" y1="431.50" x2="55.00" y2="431.50" stroke="#7a7a7a" stroke-width="1"/>
<line x1="52.00" y1="422.50" x2="56.50" y2="422.50" stroke="#7a7a7a" stroke-width="1"/>
<line x1="55.50" y1="544.80" x2="55.50" y2="549.30" stroke="#999999" stroke-width="1"/>
<line x1="76.50" y1="546.30" x2="76.50" y2="548.30" stroke="#999999" stroke-width="1"/>
<line x1="97.50" y1="544.80" x2="97.50" y2="549.30" stroke="#999999" stroke-width="1"/>
<line x1="119.50" y1="546.30" x2="119.50" y2="548.30" stroke="#999999" stroke-width="1"/>
<line x1="140.50" y1="544.80" x2="140.50" y2="549.30" stroke="#999999" stroke-width="1"/>
<line x1="161.50" y1="546.30" x2="161.50" y2="548.30" stroke="#999999" stroke-width="1"/>
<line x1="183.50" y1="544.80" x2="183.50" y2="549.30" stroke="#999999" stroke-width="1"/>
<line x1="204.50" y1="546.30" x2="204.50" y2="548.30" stroke="#999999" stroke-width="1"/>
<line x1="226.50" y1="544.80" x2="226.50" y2="549.30" stroke="#999999" stroke-width="1"/>
<line x1="247.50" y1="546.30" x2="247.50" y2="548.30" stroke="#999999" stroke-width="1"/>
<line x1="268.50" y1="544.80" x2="268.50" y2="549.30" stroke="#999999" stroke-width="1"/>
<line x1="290.50" y1="546.30" x2="290.50" y2="548.30" stroke="#999999" stroke-width="1"/>
<line x1="311.50" y1="544.80" x2="311.50" y2="549.30" stroke="#999999" stroke-width="1"/>
<text x="46.40" y="549.30" font-size="10.6" font-weight="normal" text-anchor="end" fill="#000" >-100</text>
<text x="46.40" y="531.60" font-size="10.6" font-weight="normal" text-anchor="end" fill="#000" >0</text>
<text x="46.40" y="513.90" font-size="10.6" font-weight="normal" text-anchor="end" fill="#000" >100</text>
<text x="46.40" y="496.20" font-size="10.6" font-weight="normal" text-anchor="end" fill="#000" >200</text>
<text x="46.40" y="478.50" font-size="10.6" font-weight="normal" text-anchor="end" fill="#000" >300</text>
<text x="46.40" y="460.80" font-size="10.6" font-weight="normal" text-anchor="end" fill="#000" >400</text>
<text x="46.40" y="443.10" font-size="10.6" font-weight="normal" text-anchor="end" fill="#000" >500</text>
<text x="46.40" y="425.40" font-size="10.6" font-weight="normal" text-anchor="end" fill="#000" >600</text>
<text x="47.70" y="566.00" font-size="10.6" font-weight="normal" text-anchor="middle" fill="#000" >-50</text>
<text x="97.80" y="566.00" font-size="10.6" font-weight="normal" text-anchor="middle" fill="#000" >0</text>
<text x="143.50" y="566.00" font-size="10.6" font-weight="normal" text-anchor="middle" fill="#000" >50</text>
<text x="188.80" y="566.00" font-size="10.6" font-weight="normal" text-anchor="middle" fill="#000" >100</text>
<text x="231.00" y="566.00" font-size="10.6" font-weight="normal" text-anchor="middle" fill="#000" >150</text>
<text x="276.30" y="566.00" font-size="10.6" font-weight="normal" text-anchor="middle" fill="#000" >200</text>
<text x="315.20" y="566.00" font-size="10.6" font-weight="normal" text-anchor="middle" fill="#000" >250</text>
<text x="170.80" y="577.60" font-size="10.5" font-weight="bold" text-anchor="middle" fill="#000" >Time (s)</text>
<text x="13.60" y="491.00" font-size="11.0" font-weight="bold" text-anchor="middle" fill="#000" textLength="47.8" lengthAdjust="spacingAndGlyphs" transform="rotate(-90 13.6 491.0)">Response</text>
<text x="-0.50" y="418.40" font-size="18" font-weight="bold" text-anchor="start" fill="#000" >c</text>
<text x="17.40" y="409.20" font-size="10.3" font-weight="normal" text-anchor="start" fill="#000" >RU</text>
<text x="68.60" y="426.20" font-size="15.8" font-weight="bold" text-anchor="start" fill="#ff0000" >LLL6</text>
<text x="220.30" y="455.20" font-size="11.6" font-style="italic">K</text>
<text x="227.90" y="458.40" font-size="8.58">on</text>
<text x="239.50" y="455.20" font-size="11.6">=</text>
<text x="249.30" y="455.20" font-size="11.6">2.9</text>
<path d="M272.50,447.80 L279.30,454.80 M279.30,447.80 L272.50,454.80" stroke="#000" stroke-width="0.95" fill="none"/>
<text x="285.70" y="455.20" font-size="11.6">10</text>
<text x="298.00" y="451.40" font-size="8">4</text>
<text x="305.30" y="455.20" font-size="11.6">M</text>
<line x1="315.60" y1="449.70" x2="317.40" y2="449.70" stroke="#000" stroke-width="0.9"/>
<text x="317.60" y="451.60" font-size="8">1</text>
<text x="321.90" y="455.20" font-size="11.6">s</text>
<line x1="328.90" y1="449.70" x2="330.70" y2="449.70" stroke="#000" stroke-width="0.9"/>
<text x="330.90" y="451.60" font-size="8">1</text>
<text x="220.20" y="477.00" font-size="11.6" font-style="italic">K</text>
<text x="227.50" y="480.20" font-size="8.58">off</text>
<text x="241.20" y="477.00" font-size="11.6">=</text>
<text x="251.20" y="477.00" font-size="11.6">0.081</text>
<text x="285.20" y="477.00" font-size="11.6">s</text>
<line x1="291.80" y1="471.50" x2="293.60" y2="471.50" stroke="#000" stroke-width="0.9"/>
<text x="293.80" y="473.40" font-size="8">1</text>
<text x="220.00" y="497.90" font-size="11.6" font-style="italic">K</text>
<text x="227.90" y="501.10" font-size="8.58">D</text>
<text x="237.40" y="497.90" font-size="11.6">=</text>
<text x="247.10" y="497.90" font-size="11.6">2.8</text>
<text x="267.80" y="497.90" font-size="11.6">µM</text>
<path d="M60.1,730.2 L95.4,730.2 L95.6,728.5 L95.9,727.8 L98.8,727.5 L202.6,727.5 L203.1,728.3 L205.1,728.9 L207.2,730.5 L208.1,730.8 L209.7,730.9 L318.5,730.9" fill="none" stroke="#e8206a" stroke-width="1.4" stroke-linejoin="round" stroke-linecap="round" />
<path d="M60.1,730.2 L95.4,730.2 L95.6,726.3 L95.9,724.8 L97.0,724.3 L98.8,724.1 L202.6,724.0 L202.9,727.0 L203.3,727.6 L205.1,728.4 L207.4,730.5 L209.2,730.8 L318.5,730.9" fill="none" stroke="#50a8e0" stroke-width="1.4" stroke-linejoin="round" stroke-linecap="round" />
<path d="M60.1,730.2 L95.4,730.2 L95.6,722.4 L95.9,719.6 L96.3,719.0 L97.0,718.5 L98.8,718.1 L202.6,718.0 L202.7,723.1 L203.1,726.0 L203.5,726.5 L204.5,727.0 L205.3,727.5 L207.2,730.2 L207.9,730.6 L208.8,730.8 L318.5,730.9" fill="none" stroke="#c080c8" stroke-width="1.4" stroke-linejoin="round" stroke-linecap="round" />
<path d="M60.1,730.2 L95.4,730.2 L95.6,716.3 L95.9,711.2 L96.3,710.2 L97.0,709.2 L97.7,708.8 L98.8,708.5 L103.5,708.4 L202.6,708.4 L202.7,718.2 L203.1,723.6 L203.5,724.5 L204.5,725.2 L205.3,726.0 L207.2,729.9 L207.8,730.4 L208.7,730.7 L216.4,730.9 L318.5,730.9" fill="none" stroke="#109838" stroke-width="1.4" stroke-linejoin="round" stroke-linecap="round" />
<path d="M60.1,730.2 L95.4,730.2 L95.6,708.2 L95.9,700.1 L96.3,698.5 L97.0,697.0 L97.7,696.3 L98.8,695.8 L103.5,695.6 L202.6,695.6 L202.7,711.7 L203.1,720.5 L203.5,721.9 L204.5,722.8 L205.3,723.9 L207.2,729.5 L207.8,730.2 L208.5,730.6 L210.1,730.9 L215.1,730.9 L318.5,730.9" fill="none" stroke="#7030a0" stroke-width="1.4" stroke-linejoin="round" stroke-linecap="round" />
<path d="M60.1,730.2 L95.4,730.2 L95.8,688.8 L95.9,686.1 L96.5,683.9 L97.4,682.6 L98.5,682.0 L100.1,681.7 L103.1,681.6 L202.6,681.6 L202.7,704.6 L203.1,717.1 L203.5,719.1 L204.5,720.2 L205.3,721.6 L207.2,729.1 L207.8,730.0 L208.5,730.6 L209.9,730.9 L214.6,730.9 L318.5,730.9" fill="none" stroke="#f8a030" stroke-width="1.4" stroke-linejoin="round" stroke-linecap="round" />
<path d="M60.1,730.2 L95.4,730.2 L95.6,675.9 L95.8,663.7 L95.9,661.6 L97.0,665.6 L98.1,667.8 L98.8,668.5 L99.5,668.9 L101.7,669.3 L202.6,669.4 L202.7,699.0 L203.1,715.0 L203.5,717.5 L204.5,718.7 L205.3,720.4 L207.2,728.9 L207.9,730.1 L208.8,730.7 L210.5,730.9 L215.5,730.9 L318.5,730.9" fill="none" stroke="#a860c0" stroke-width="1.4" stroke-linejoin="round" stroke-linecap="round" />
<path d="M60.1,730.2 L95.4,730.2 L95.6,654.8 L95.8,639.0 L95.9,637.5 L97.0,649.5 L98.1,655.9 L98.8,658.1 L99.7,659.7 L100.8,660.7 L102.2,661.3 L104.4,661.5 L108.3,661.6 L202.6,661.6 L202.7,696.1 L203.1,714.6 L203.5,717.4 L204.7,719.0 L205.3,720.4 L207.2,728.9 L207.8,729.9 L208.7,730.6 L210.3,730.9 L214.9,730.9 L318.5,730.9" fill="none" stroke="#f03c3c" stroke-width="1.4" stroke-linejoin="round" stroke-linecap="round" />
<line x1="195.85" y1="661.59" x2="202.12" y2="661.59" stroke="#4a5870" stroke-width="1.6"/>
<line x1="195.85" y1="669.41" x2="202.12" y2="669.41" stroke="#4a5870" stroke-width="1.6"/>
<line x1="195.85" y1="681.61" x2="202.12" y2="681.61" stroke="#4a5870" stroke-width="1.6"/>
<line x1="195.85" y1="695.62" x2="202.12" y2="695.62" stroke="#4a5870" stroke-width="1.6"/>
<line x1="195.85" y1="708.36" x2="202.12" y2="708.36" stroke="#4a5870" stroke-width="1.6"/>
<line x1="195.85" y1="718.01" x2="202.12" y2="718.01" stroke="#4a5870" stroke-width="1.6"/>
<line x1="195.85" y1="724.01" x2="202.12" y2="724.01" stroke="#4a5870" stroke-width="1.6"/>
<line x1="195.85" y1="727.47" x2="202.12" y2="727.47" stroke="#4a5870" stroke-width="1.6"/>
<line x1="49.50" y1="621.00" x2="49.50" y2="748.40" stroke="#858585" stroke-width="1"/>
<line x1="49.80" y1="748.50" x2="318.60" y2="748.50" stroke="#2a2a2a" stroke-width="1"/>
<line x1="46.80" y1="748.50" x2="49.80" y2="748.50" stroke="#858585" stroke-width="1"/>
<line x1="47.80" y1="739.50" x2="49.80" y2="739.50" stroke="#858585" stroke-width="1"/>
<line x1="46.80" y1="730.50" x2="49.80" y2="730.50" stroke="#858585" stroke-width="1"/>
<line x1="47.80" y1="721.50" x2="49.80" y2="721.50" stroke="#858585" stroke-width="1"/>
<line x1="46.80" y1="712.50" x2="49.80" y2="712.50" stroke="#858585" stroke-width="1"/>
<line x1="47.80" y1="702.50" x2="49.80" y2="702.50" stroke="#858585" stroke-width="1"/>
<line x1="46.80" y1="693.50" x2="49.80" y2="693.50" stroke="#858585" stroke-width="1"/>
<line x1="47.80" y1="684.50" x2="49.80" y2="684.50" stroke="#858585" stroke-width="1"/>
<line x1="46.80" y1="675.50" x2="49.80" y2="675.50" stroke="#858585" stroke-width="1"/>
<line x1="47.80" y1="666.50" x2="49.80" y2="666.50" stroke="#858585" stroke-width="1"/>
<line x1="46.80" y1="657.50" x2="49.80" y2="657.50" stroke="#858585" stroke-width="1"/>
<line x1="47.80" y1="648.50" x2="49.80" y2="648.50" stroke="#858585" stroke-width="1"/>
<line x1="46.80" y1="639.50" x2="49.80" y2="639.50" stroke="#858585" stroke-width="1"/>
<line x1="47.80" y1="630.50" x2="49.80" y2="630.50" stroke="#858585" stroke-width="1"/>
<line x1="46.80" y1="621.50" x2="49.80" y2="621.50" stroke="#858585" stroke-width="1"/>
<line x1="49.50" y1="748.40" x2="49.50" y2="751.40" stroke="#2a2a2a" stroke-width="1"/>
<line x1="72.50" y1="748.40" x2="72.50" y2="750.40" stroke="#2a2a2a" stroke-width="1"/>
<line x1="94.50" y1="748.40" x2="94.50" y2="751.40" stroke="#2a2a2a" stroke-width="1"/>
<line x1="117.50" y1="748.40" x2="117.50" y2="750.40" stroke="#2a2a2a" stroke-width="1"/>
<line x1="139.50" y1="748.40" x2="139.50" y2="751.40" stroke="#2a2a2a" stroke-width="1"/>
<line x1="161.50" y1="748.40" x2="161.50" y2="750.40" stroke="#2a2a2a" stroke-width="1"/>
<line x1="184.50" y1="748.40" x2="184.50" y2="751.40" stroke="#2a2a2a" stroke-width="1"/>
<line x1="206.50" y1="748.40" x2="206.50" y2="750.40" stroke="#2a2a2a" stroke-width="1"/>
<line x1="229.50" y1="748.40" x2="229.50" y2="751.40" stroke="#2a2a2a" stroke-width="1"/>
<line x1="251.50" y1="748.40" x2="251.50" y2="750.40" stroke="#2a2a2a" stroke-width="1"/>
<line x1="273.50" y1="748.40" x2="273.50" y2="751.40" stroke="#2a2a2a" stroke-width="1"/>
<line x1="296.50" y1="748.40" x2="296.50" y2="750.40" stroke="#2a2a2a" stroke-width="1"/>
<line x1="318.50" y1="748.40" x2="318.50" y2="751.40" stroke="#2a2a2a" stroke-width="1"/>
<text x="41.00" y="751.40" font-size="10.6" font-weight="normal" text-anchor="end" fill="#000" >-100</text>
<text x="41.00" y="733.20" font-size="10.6" font-weight="normal" text-anchor="end" fill="#000" >0</text>
<text x="41.00" y="715.00" font-size="10.6" font-weight="normal" text-anchor="end" fill="#000" >100</text>
<text x="41.00" y="696.80" font-size="10.6" font-weight="normal" text-anchor="end" fill="#000" >200</text>
<text x="41.00" y="678.60" font-size="10.6" font-weight="normal" text-anchor="end" fill="#000" >300</text>
<text x="41.00" y="660.40" font-size="10.6" font-weight="normal" text-anchor="end" fill="#000" >400</text>
<text x="41.00" y="642.20" font-size="10.6" font-weight="normal" text-anchor="end" fill="#000" >500</text>
<text x="41.00" y="624.00" font-size="10.6" font-weight="normal" text-anchor="end" fill="#000" >600</text>
<text x="49.80" y="764.40" font-size="10.6" font-weight="normal" text-anchor="middle" fill="#000" >-50</text>
<text x="94.60" y="764.40" font-size="10.6" font-weight="normal" text-anchor="middle" fill="#000" >0</text>
<text x="139.40" y="764.40" font-size="10.6" font-weight="normal" text-anchor="middle" fill="#000" >50</text>
<text x="184.20" y="764.40" font-size="10.6" font-weight="normal" text-anchor="middle" fill="#000" >100</text>
<text x="229.00" y="764.40" font-size="10.6" font-weight="normal" text-anchor="middle" fill="#000" >150</text>
<text x="273.80" y="764.40" font-size="10.6" font-weight="normal" text-anchor="middle" fill="#000" >200</text>
<text x="318.60" y="764.40" font-size="10.6" font-weight="normal" text-anchor="middle" fill="#000" >250</text>
<text x="172.60" y="784.00" font-size="10.5" font-weight="bold" text-anchor="middle" fill="#000" >Time (s)</text>
<text x="15.00" y="685.00" font-size="10.6" font-weight="bold" text-anchor="middle" fill="#000" textLength="51.8" lengthAdjust="spacingAndGlyphs" transform="rotate(-90 15 685)">Response</text>
<text x="-0.60" y="620.20" font-size="18" font-weight="bold" text-anchor="start" fill="#000" >d</text>
<text x="16.80" y="610.20" font-size="10.3" font-weight="normal" text-anchor="start" fill="#000" >RU</text>
<text x="68.60" y="626.80" font-size="15.8" font-weight="bold" text-anchor="start" fill="#ff0000" >LLL6E</text>
<path d="M415.5,145.2 L418.2,120.3 L419.0,115.1 L420.5,107.7 L421.8,102.2 L423.0,98.1 L425.8,90.3 L428.0,85.4 L430.5,81.2 L433.9,76.5 L437.3,72.5 L440.5,69.3 L443.6,66.9 L447.3,64.6 L453.4,61.3 L459.0,58.8 L464.2,56.9 L470.1,55.2 L477.2,53.5 L485.1,52.0 L502.5,49.2 L512.8,48.0 L524.8,46.9 L546.9,45.4 L567.3,44.5 L604.0,43.2 L670.0,41.4" fill="none" stroke="#111" stroke-width="1.35" stroke-linejoin="round" stroke-linecap="round" />
<line x1="415.50" y1="24.50" x2="415.50" y2="145.20" stroke="#333333" stroke-width="1"/>
<line x1="415.50" y1="145.50" x2="670.00" y2="145.50" stroke="#808080" stroke-width="1"/>
<line x1="412.50" y1="145.50" x2="415.50" y2="145.50" stroke="#333333" stroke-width="1"/>
<line x1="413.50" y1="130.50" x2="415.50" y2="130.50" stroke="#333333" stroke-width="1"/>
<line x1="412.50" y1="115.50" x2="415.50" y2="115.50" stroke="#333333" stroke-width="1"/>
<line x1="413.50" y1="99.50" x2="415.50" y2="99.50" stroke="#333333" stroke-width="1"/>
<line x1="412.50" y1="84.50" x2="415.50" y2="84.50" stroke="#333333" stroke-width="1"/>
<line x1="413.50" y1="69.50" x2="415.50" y2="69.50" stroke="#333333" stroke-width="1"/>
<line x1="412.50" y1="54.50" x2="415.50" y2="54.50" stroke="#333333" stroke-width="1"/>
<line x1="413.50" y1="39.50" x2="415.50" y2="39.50" stroke="#333333" stroke-width="1"/>
<line x1="412.50" y1="24.50" x2="415.50" y2="24.50" stroke="#333333" stroke-width="1"/>
<line x1="415.50" y1="145.20" x2="415.50" y2="148.20" stroke="#808080" stroke-width="1"/>
<line x1="440.50" y1="145.20" x2="440.50" y2="147.20" stroke="#808080" stroke-width="1"/>
<line x1="466.50" y1="145.20" x2="466.50" y2="148.20" stroke="#808080" stroke-width="1"/>
<line x1="491.50" y1="145.20" x2="491.50" y2="147.20" stroke="#808080" stroke-width="1"/>
<line x1="517.50" y1="145.20" x2="517.50" y2="148.20" stroke="#808080" stroke-width="1"/>
<line x1="542.50" y1="145.20" x2="542.50" y2="147.20" stroke="#808080" stroke-width="1"/>
<line x1="568.50" y1="145.20" x2="568.50" y2="148.20" stroke="#808080" stroke-width="1"/>
<line x1="593.50" y1="145.20" x2="593.50" y2="147.20" stroke="#808080" stroke-width="1"/>
<line x1="619.50" y1="145.20" x2="619.50" y2="148.20" stroke="#808080" stroke-width="1"/>
<line x1="644.50" y1="145.20" x2="644.50" y2="147.20" stroke="#808080" stroke-width="1"/>
<line x1="670.50" y1="145.20" x2="670.50" y2="148.20" stroke="#808080" stroke-width="1"/>
<circle cx="417.49" cy="126.13" r="3.0" fill="#e0cc30"/>
<circle cx="419.47" cy="112.79" r="3.0" fill="#b08a3c"/>
<circle cx="423.45" cy="96.68" r="3.0" fill="#50c060"/>
<circle cx="431.41" cy="79.84" r="3.0" fill="#f8a040"/>
<circle cx="447.31" cy="64.57" r="3.0" fill="#f05a5a"/>
<circle cx="479.12" cy="53.11" r="3.0" fill="#e05a26"/>
<circle cx="542.75" cy="45.62" r="3.0" fill="#e0246a"/>
<circle cx="670.00" cy="41.40" r="3.0" fill="#c4ac32"/>
<text x="406.00" y="148.60" font-size="10.2" font-weight="normal" text-anchor="end" fill="#000" >0</text>
<text x="406.00" y="118.42" font-size="10.2" font-weight="normal" text-anchor="end" fill="#000" >50</text>
<text x="406.00" y="88.25" font-size="10.2" font-weight="normal" text-anchor="end" fill="#000" >100</text>
<text x="406.00" y="58.07" font-size="10.2" font-weight="normal" text-anchor="end" fill="#000" >150</text>
<text x="406.00" y="27.90" font-size="10.2" font-weight="normal" text-anchor="end" fill="#000" >200</text>
<text x="414.50" y="164.40" font-size="10.2" font-weight="normal" text-anchor="middle" fill="#000" >0</text>
<text x="461.70" y="164.40" font-size="10.2" font-weight="normal" text-anchor="middle" fill="#000" >2e-6</text>
<text x="510.50" y="164.40" font-size="10.2" font-weight="normal" text-anchor="middle" fill="#000" >4e-6</text>
<text x="562.50" y="164.40" font-size="10.2" font-weight="normal" text-anchor="middle" fill="#000" >6e-6</text>
<text x="614.30" y="164.40" font-size="10.2" font-weight="normal" text-anchor="middle" fill="#000" >8e-6</text>
<text x="666.80" y="164.40" font-size="10.2" font-weight="normal" text-anchor="middle" fill="#000" >1e-5</text>
<text x="515.50" y="86.00" font-size="11.6" font-style="italic">K</text>
<text x="522.90" y="89.20" font-size="8.58">D</text>
<text x="531.10" y="86.00" font-size="11.6">=</text>
<text x="541.70" y="86.00" font-size="11.6">0.43</text>
<text x="568.50" y="86.00" font-size="11.6">µM</text>
<text x="383.00" y="83.35" font-size="10.4" font-weight="bold" text-anchor="middle" fill="#000" textLength="50.4" lengthAdjust="spacingAndGlyphs" transform="rotate(-90 383.0 83.35)">Response</text>
<text x="541.90" y="185.30" font-size="10.6" font-weight="bold" text-anchor="middle" fill="#000" >Concentration (M)</text>
<text x="383.00" y="13.60" font-size="10.0" font-weight="normal" text-anchor="start" fill="#000" >RU</text>
<path d="M414.2,326.7 L415.8,319.5 L418.1,311.7 L419.7,307.4 L423.4,298.4 L425.1,294.8 L427.2,291.2 L431.8,284.5 L434.6,280.7 L438.1,276.8 L441.3,273.7 L448.2,268.2 L453.5,264.3 L458.4,261.1 L462.5,258.8 L467.0,256.5 L472.2,254.4 L480.0,251.7 L488.3,249.1 L502.0,245.6 L509.9,243.9 L518.7,242.3 L536.0,239.8 L553.7,237.9 L576.3,236.1 L607.7,234.0 L667.6,230.4" fill="none" stroke="#111" stroke-width="1.35" stroke-linejoin="round" stroke-linecap="round" />
<line x1="412.50" y1="220.00" x2="412.50" y2="337.80" stroke="#333333" stroke-width="1"/>
<line x1="412.20" y1="337.50" x2="667.60" y2="337.50" stroke="#808080" stroke-width="1"/>
<line x1="409.20" y1="337.50" x2="412.20" y2="337.50" stroke="#333333" stroke-width="1"/>
<line x1="410.20" y1="326.50" x2="412.20" y2="326.50" stroke="#333333" stroke-width="1"/>
<line x1="409.20" y1="314.50" x2="412.20" y2="314.50" stroke="#333333" stroke-width="1"/>
<line x1="410.20" y1="302.50" x2="412.20" y2="302.50" stroke="#333333" stroke-width="1"/>
<line x1="409.20" y1="290.50" x2="412.20" y2="290.50" stroke="#333333" stroke-width="1"/>
<line x1="410.20" y1="278.50" x2="412.20" y2="278.50" stroke="#333333" stroke-width="1"/>
<line x1="409.20" y1="267.50" x2="412.20" y2="267.50" stroke="#333333" stroke-width="1"/>
<line x1="410.20" y1="255.50" x2="412.20" y2="255.50" stroke="#333333" stroke-width="1"/>
<line x1="409.20" y1="243.50" x2="412.20" y2="243.50" stroke="#333333" stroke-width="1"/>
<line x1="410.20" y1="231.50" x2="412.20" y2="231.50" stroke="#333333" stroke-width="1"/>
<line x1="409.20" y1="220.50" x2="412.20" y2="220.50" stroke="#333333" stroke-width="1"/>
<line x1="412.50" y1="337.80" x2="412.50" y2="340.80" stroke="#808080" stroke-width="1"/>
<line x1="444.50" y1="337.80" x2="444.50" y2="339.80" stroke="#808080" stroke-width="1"/>
<line x1="476.50" y1="337.80" x2="476.50" y2="340.80" stroke="#808080" stroke-width="1"/>
<line x1="507.50" y1="337.80" x2="507.50" y2="339.80" stroke="#808080" stroke-width="1"/>
<line x1="539.50" y1="337.80" x2="539.50" y2="340.80" stroke="#808080" stroke-width="1"/>
<line x1="571.50" y1="337.80" x2="571.50" y2="339.80" stroke="#808080" stroke-width="1"/>
<line x1="603.50" y1="337.80" x2="603.50" y2="340.80" stroke="#808080" stroke-width="1"/>
<line x1="635.50" y1="337.80" x2="635.50" y2="339.80" stroke="#808080" stroke-width="1"/>
<line x1="667.50" y1="337.80" x2="667.50" y2="340.80" stroke="#808080" stroke-width="1"/>
<circle cx="414.20" cy="326.73" r="3.0" fill="#e8d030"/>
<circle cx="416.19" cy="318.25" r="3.0" fill="#b08a30"/>
<circle cx="420.18" cy="306.23" r="3.0" fill="#f070b0"/>
<circle cx="428.16" cy="289.74" r="3.0" fill="#50c060"/>
<circle cx="444.12" cy="271.36" r="3.0" fill="#f89a30"/>
<circle cx="476.05" cy="252.98" r="3.0" fill="#9a6a20"/>
<circle cx="539.90" cy="239.32" r="3.0" fill="#f8a040"/>
<circle cx="667.60" cy="230.37" r="3.0" fill="#f04848"/>
<text x="402.30" y="341.20" font-size="10.2" font-weight="normal" text-anchor="end" fill="#000" >0</text>
<text x="402.30" y="317.64" font-size="10.2" font-weight="normal" text-anchor="end" fill="#000" >10</text>
<text x="402.30" y="294.08" font-size="10.2" font-weight="normal" text-anchor="end" fill="#000" >20</text>
<text x="402.30" y="270.52" font-size="10.2" font-weight="normal" text-anchor="end" fill="#000" >30</text>
<text x="402.30" y="246.96" font-size="10.2" font-weight="normal" text-anchor="end" fill="#000" >40</text>
<text x="402.30" y="223.40" font-size="10.2" font-weight="normal" text-anchor="end" fill="#000" >50</text>
<text x="411.70" y="359.00" font-size="10.2" font-weight="normal" text-anchor="middle" fill="#000" >0</text>
<text x="477.50" y="359.00" font-size="10.2" font-weight="normal" text-anchor="middle" fill="#000" >1e-6</text>
<text x="540.40" y="359.00" font-size="10.2" font-weight="normal" text-anchor="middle" fill="#000" >2e-6</text>
<text x="602.30" y="359.00" font-size="10.2" font-weight="normal" text-anchor="middle" fill="#000" >3e-6</text>
<text x="662.80" y="359.00" font-size="10.2" font-weight="normal" text-anchor="middle" fill="#000" >4e-6</text>
<text x="515.50" y="276.00" font-size="11.6" font-style="italic">K</text>
<text x="522.90" y="279.20" font-size="8.58">D</text>
<text x="531.10" y="276.00" font-size="11.6">=</text>
<text x="541.70" y="276.00" font-size="11.6">0.41</text>
<text x="568.50" y="276.00" font-size="11.6">µM</text>
<text x="385.80" y="278.10" font-size="10.6" font-weight="bold" text-anchor="middle" fill="#000" textLength="51.7" lengthAdjust="spacingAndGlyphs" transform="rotate(-90 385.8 278.1)">Response</text>
<text x="543.30" y="376.80" font-size="10.6" font-weight="bold" text-anchor="middle" fill="#000" >Concentration (M)</text>
<text x="383.60" y="209.40" font-size="10.0" font-weight="normal" text-anchor="start" fill="#000" >RU</text>
<path d="M415.7,515.5 L417.6,507.8 L418.8,503.6 L420.8,498.5 L423.1,493.5 L424.9,490.4 L427.0,487.2 L431.7,481.3 L435.3,477.2 L438.1,474.5 L441.5,471.9 L445.4,469.4 L451.7,465.8 L456.4,463.5 L461.7,461.2 L471.3,458.0 L489.6,453.5 L503.7,450.6 L520.9,448.0 L538.6,446.1 L556.7,444.8 L580.0,443.6 L673.6,440.4" fill="none" stroke="#111" stroke-width="1.35" stroke-linejoin="round" stroke-linecap="round" />
<line x1="411.50" y1="419.00" x2="411.50" y2="542.50" stroke="#909090" stroke-width="1"/>
<line x1="411.60" y1="542.50" x2="673.60" y2="542.50" stroke="#909090" stroke-width="1"/>
<line x1="408.60" y1="542.50" x2="411.60" y2="542.50" stroke="#909090" stroke-width="1"/>
<line x1="409.60" y1="532.50" x2="411.60" y2="532.50" stroke="#909090" stroke-width="1"/>
<line x1="408.60" y1="521.50" x2="411.60" y2="521.50" stroke="#909090" stroke-width="1"/>
<line x1="409.60" y1="511.50" x2="411.60" y2="511.50" stroke="#909090" stroke-width="1"/>
<line x1="408.60" y1="501.50" x2="411.60" y2="501.50" stroke="#909090" stroke-width="1"/>
<line x1="409.60" y1="491.50" x2="411.60" y2="491.50" stroke="#909090" stroke-width="1"/>
<line x1="408.60" y1="480.50" x2="411.60" y2="480.50" stroke="#909090" stroke-width="1"/>
<line x1="409.60" y1="470.50" x2="411.60" y2="470.50" stroke="#909090" stroke-width="1"/>
<line x1="408.60" y1="460.50" x2="411.60" y2="460.50" stroke="#909090" stroke-width="1"/>
<line x1="409.60" y1="449.50" x2="411.60" y2="449.50" stroke="#909090" stroke-width="1"/>
<line x1="408.60" y1="439.50" x2="411.60" y2="439.50" stroke="#909090" stroke-width="1"/>
<line x1="409.60" y1="429.50" x2="411.60" y2="429.50" stroke="#909090" stroke-width="1"/>
<line x1="408.60" y1="419.50" x2="411.60" y2="419.50" stroke="#909090" stroke-width="1"/>
<line x1="411.50" y1="541.00" x2="411.50" y2="545.50" stroke="#909090" stroke-width="1"/>
<line x1="437.50" y1="542.50" x2="437.50" y2="544.50" stroke="#909090" stroke-width="1"/>
<line x1="464.50" y1="541.00" x2="464.50" y2="545.50" stroke="#909090" stroke-width="1"/>
<line x1="490.50" y1="542.50" x2="490.50" y2="544.50" stroke="#909090" stroke-width="1"/>
<line x1="516.50" y1="541.00" x2="516.50" y2="545.50" stroke="#909090" stroke-width="1"/>
<line x1="542.50" y1="542.50" x2="542.50" y2="544.50" stroke="#909090" stroke-width="1"/>
<line x1="568.50" y1="541.00" x2="568.50" y2="545.50" stroke="#909090" stroke-width="1"/>
<line x1="595.50" y1="542.50" x2="595.50" y2="544.50" stroke="#909090" stroke-width="1"/>
<line x1="621.50" y1="541.00" x2="621.50" y2="545.50" stroke="#909090" stroke-width="1"/>
<line x1="647.50" y1="542.50" x2="647.50" y2="544.50" stroke="#909090" stroke-width="1"/>
<line x1="673.50" y1="541.00" x2="673.50" y2="545.50" stroke="#909090" stroke-width="1"/>
<path d="M415.69,512.34 L418.89,515.54 L415.69,518.74 L412.49,515.54 Z" fill="#ff2020"/>
<path d="M419.77,497.72 L422.97,500.92 L419.77,504.12 L416.57,500.92 Z" fill="#207028"/>
<path d="M427.98,482.70 L431.18,485.90 L427.98,489.10 L424.78,485.90 Z" fill="#2030ff"/>
<path d="M444.35,466.85 L447.55,470.05 L444.35,473.25 L441.15,470.05 Z" fill="#ff28ff"/>
<path d="M477.10,453.26 L480.30,456.46 L477.10,459.66 L473.90,456.46 Z" fill="#20d0d8"/>
<path d="M542.60,442.56 L545.80,445.76 L542.60,448.96 L539.40,445.76 Z" fill="#e0a838"/>
<path d="M670.40,440.41 L673.60,437.21 L674.00,437.61 L674.00,443.21 L673.60,443.61 Z" fill="#8c109c"/>
<text x="405.00" y="545.90" font-size="10.2" font-weight="normal" text-anchor="end" fill="#000" >0</text>
<text x="405.00" y="525.32" font-size="10.2" font-weight="normal" text-anchor="end" fill="#000" >100</text>
<text x="405.00" y="504.73" font-size="10.2" font-weight="normal" text-anchor="end" fill="#000" >200</text>
<text x="405.00" y="484.15" font-size="10.2" font-weight="normal" text-anchor="end" fill="#000" >300</text>
<text x="405.00" y="463.57" font-size="10.2" font-weight="normal" text-anchor="end" fill="#000" >400</text>
<text x="405.00" y="442.98" font-size="10.2" font-weight="normal" text-anchor="end" fill="#000" >500</text>
<text x="405.00" y="422.40" font-size="10.2" font-weight="normal" text-anchor="end" fill="#000" >600</text>
<text x="410.80" y="563.00" font-size="10.2" font-weight="normal" text-anchor="middle" fill="#000" >0</text>
<text x="464.00" y="563.00" font-size="10.2" font-weight="normal" text-anchor="middle" fill="#000" >1e-5</text>
<text x="515.40" y="563.00" font-size="10.2" font-weight="normal" text-anchor="middle" fill="#000" >2e-5</text>
<text x="567.70" y="563.00" font-size="10.2" font-weight="normal" text-anchor="middle" fill="#000" >3e-5</text>
<text x="622.30" y="563.00" font-size="10.2" font-weight="normal" text-anchor="middle" fill="#000" >4e-5</text>
<text x="674.30" y="563.00" font-size="10.2" font-weight="normal" text-anchor="middle" fill="#000" >5e-5</text>
<text x="515.50" y="482.30" font-size="11.6" font-style="italic">K</text>
<text x="522.90" y="485.50" font-size="8.58">D</text>
<text x="531.10" y="482.30" font-size="11.6">=</text>
<text x="541.70" y="482.30" font-size="11.6">3.6</text>
<text x="561.40" y="482.30" font-size="11.6">µM</text>
<text x="379.80" y="487.65" font-size="10.4" font-weight="bold" text-anchor="middle" fill="#000" textLength="47.4" lengthAdjust="spacingAndGlyphs" transform="rotate(-90 379.8 487.65)">Response</text>
<text x="541.00" y="575.00" font-size="10.6" font-weight="bold" text-anchor="middle" fill="#000" >Concentration (M)</text>
<text x="383.00" y="405.40" font-size="9.6" font-weight="normal" text-anchor="start" fill="#000" >RU</text>
<path d="M414.1,744.5 L419.1,736.0 L425.0,728.0 L427.5,725.3 L434.6,718.2 L437.2,715.8 L440.3,713.4 L444.0,710.9 L453.6,705.2 L458.4,702.5 L462.5,700.5 L467.0,698.6 L472.2,696.7 L484.2,693.2 L499.8,689.4 L513.0,686.8 L528.8,684.4 L548.3,682.1 L569.5,680.3 L594.5,678.6 L676.0,673.7" fill="none" stroke="#111" stroke-width="1.35" stroke-linejoin="round" stroke-linecap="round" />
<line x1="412.50" y1="629.40" x2="412.50" y2="747.50" stroke="#8a8a8a" stroke-width="1"/>
<line x1="412.00" y1="747.50" x2="676.00" y2="747.50" stroke="#333333" stroke-width="1"/>
<line x1="409.00" y1="747.50" x2="412.00" y2="747.50" stroke="#8a8a8a" stroke-width="1"/>
<line x1="410.00" y1="737.50" x2="412.00" y2="737.50" stroke="#8a8a8a" stroke-width="1"/>
<line x1="409.00" y1="727.50" x2="412.00" y2="727.50" stroke="#8a8a8a" stroke-width="1"/>
<line x1="410.00" y1="717.50" x2="412.00" y2="717.50" stroke="#8a8a8a" stroke-width="1"/>
<line x1="409.00" y1="708.50" x2="412.00" y2="708.50" stroke="#8a8a8a" stroke-width="1"/>
<line x1="410.00" y1="698.50" x2="412.00" y2="698.50" stroke="#8a8a8a" stroke-width="1"/>
<line x1="409.00" y1="688.50" x2="412.00" y2="688.50" stroke="#8a8a8a" stroke-width="1"/>
<line x1="410.00" y1="678.50" x2="412.00" y2="678.50" stroke="#8a8a8a" stroke-width="1"/>
<line x1="409.00" y1="668.50" x2="412.00" y2="668.50" stroke="#8a8a8a" stroke-width="1"/>
<line x1="410.00" y1="658.50" x2="412.00" y2="658.50" stroke="#8a8a8a" stroke-width="1"/>
<line x1="409.00" y1="649.50" x2="412.00" y2="649.50" stroke="#8a8a8a" stroke-width="1"/>
<line x1="410.00" y1="639.50" x2="412.00" y2="639.50" stroke="#8a8a8a" stroke-width="1"/>
<line x1="409.00" y1="629.50" x2="412.00" y2="629.50" stroke="#8a8a8a" stroke-width="1"/>
<line x1="412.50" y1="747.50" x2="412.50" y2="750.50" stroke="#333333" stroke-width="1"/>
<line x1="438.50" y1="747.50" x2="438.50" y2="749.50" stroke="#333333" stroke-width="1"/>
<line x1="464.50" y1="747.50" x2="464.50" y2="750.50" stroke="#333333" stroke-width="1"/>
<line x1="491.50" y1="747.50" x2="491.50" y2="749.50" stroke="#333333" stroke-width="1"/>
<line x1="517.50" y1="747.50" x2="517.50" y2="750.50" stroke="#333333" stroke-width="1"/>
<line x1="544.50" y1="747.50" x2="544.50" y2="749.50" stroke="#333333" stroke-width="1"/>
<line x1="570.50" y1="747.50" x2="570.50" y2="750.50" stroke="#333333" stroke-width="1"/>
<line x1="596.50" y1="747.50" x2="596.50" y2="749.50" stroke="#333333" stroke-width="1"/>
<line x1="623.50" y1="747.50" x2="623.50" y2="750.50" stroke="#333333" stroke-width="1"/>
<line x1="649.50" y1="747.50" x2="649.50" y2="749.50" stroke="#333333" stroke-width="1"/>
<line x1="676.50" y1="747.50" x2="676.50" y2="750.50" stroke="#333333" stroke-width="1"/>
<circle cx="414.06" cy="744.55" r="3.0" fill="#e8206a"/>
<circle cx="416.12" cy="741.00" r="3.0" fill="#50a8e0"/>
<circle cx="420.25" cy="734.31" r="3.0" fill="#c080c8"/>
<circle cx="428.50" cy="724.27" r="3.0" fill="#10a040"/>
<circle cx="445.00" cy="710.30" r="3.0" fill="#8030a8"/>
<circle cx="478.00" cy="694.95" r="3.0" fill="#f8a030"/>
<circle cx="544.00" cy="682.54" r="3.0" fill="#b878c8"/>
<circle cx="676.00" cy="673.69" r="3.0" fill="#f04848"/>
<text x="402.40" y="750.90" font-size="10.2" font-weight="normal" text-anchor="end" fill="#000" >0</text>
<text x="402.40" y="731.22" font-size="10.2" font-weight="normal" text-anchor="end" fill="#000" >100</text>
<text x="402.40" y="711.53" font-size="10.2" font-weight="normal" text-anchor="end" fill="#000" >200</text>
<text x="402.40" y="691.85" font-size="10.2" font-weight="normal" text-anchor="end" fill="#000" >300</text>
<text x="402.40" y="672.17" font-size="10.2" font-weight="normal" text-anchor="end" fill="#000" >400</text>
<text x="402.40" y="652.48" font-size="10.2" font-weight="normal" text-anchor="end" fill="#000" >500</text>
<text x="402.40" y="632.80" font-size="10.2" font-weight="normal" text-anchor="end" fill="#000" >600</text>
<text x="410.80" y="767.60" font-size="10.2" font-weight="normal" text-anchor="middle" fill="#000" >0</text>
<text x="466.30" y="767.60" font-size="10.2" font-weight="normal" text-anchor="middle" fill="#000" >2e-5</text>
<text x="517.70" y="767.60" font-size="10.2" font-weight="normal" text-anchor="middle" fill="#000" >4e-5</text>
<text x="573.20" y="767.60" font-size="10.2" font-weight="normal" text-anchor="middle" fill="#000" >6e-5</text>
<text x="625.10" y="767.60" font-size="10.2" font-weight="normal" text-anchor="middle" fill="#000" >8e-5</text>
<text x="673.80" y="767.60" font-size="10.2" font-weight="normal" text-anchor="middle" fill="#000" >1e-4</text>
<text x="515.50" y="700.00" font-size="11.6" font-style="italic">K</text>
<text x="522.90" y="703.20" font-size="8.58">D</text>
<text x="531.10" y="700.00" font-size="11.6">=</text>
<text x="541.70" y="700.00" font-size="11.6">15.2</text>
<text x="568.30" y="700.00" font-size="11.6">µM</text>
<text x="379.60" y="688.70" font-size="10.6" font-weight="bold" text-anchor="middle" fill="#000" textLength="51.7" lengthAdjust="spacingAndGlyphs" transform="rotate(-90 379.6 688.7)">Response</text>
<text x="543.70" y="787.60" font-size="10.6" font-weight="bold" text-anchor="middle" fill="#000" >Concentration (M)</text>
<text x="376.40" y="620.40" font-size="10.0" font-weight="normal" text-anchor="start" fill="#000" >RU</text>
</svg></body></html>
